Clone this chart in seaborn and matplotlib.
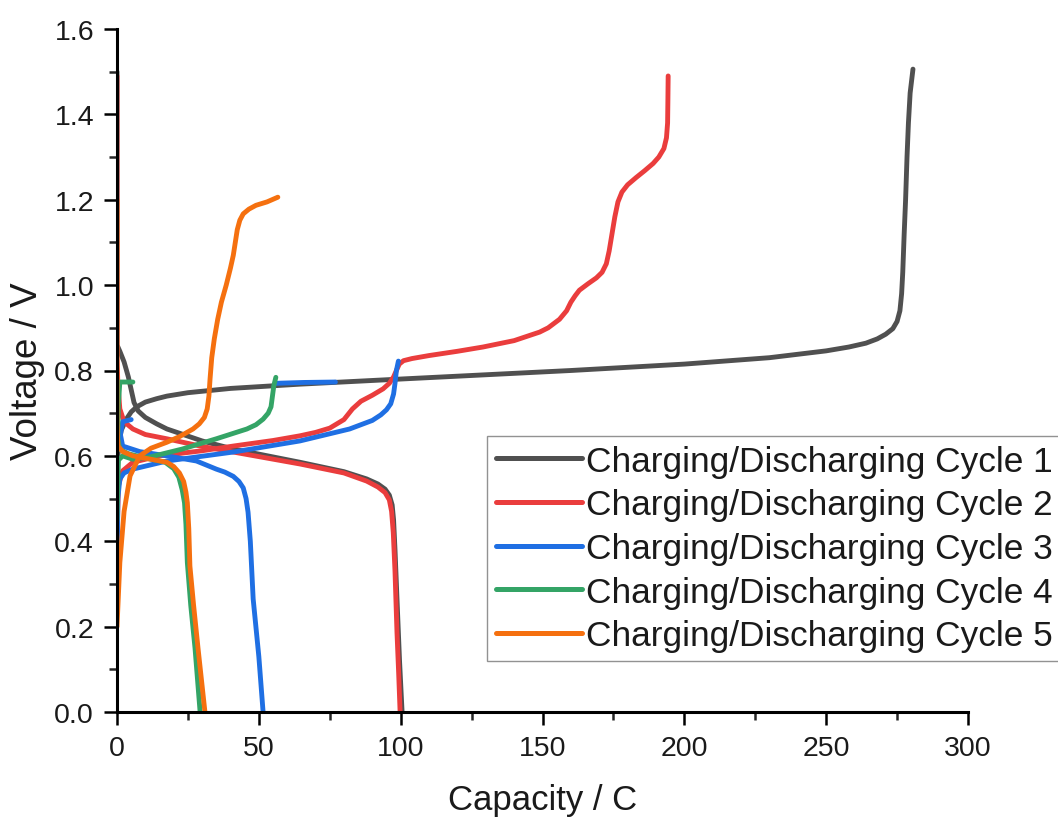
import matplotlib
matplotlib.use("Agg")
import matplotlib.pyplot as plt
from matplotlib.ticker import MultipleLocator, FormatStrFormatter
import seaborn as sns
import pandas as pd

# cycle names / colours
cycles = ["Charging/Discharging Cycle 1", "Charging/Discharging Cycle 2",
          "Charging/Discharging Cycle 3", "Charging/Discharging Cycle 4",
          "Charging/Discharging Cycle 5"]
colors = ["#505050", "#ea3d3d", "#1f6fe3", "#34a466", "#f5700f"]

# Cycle 1
c1_charge_x = [0, 0.5, 1.5, 3.3, 5, 7, 10, 14, 17.6, 25, 40, 64.5, 100, 130, 160, 200, 230, 250,
               258, 264, 268, 271, 273.5, 275, 276, 276.6, 277, 277.5, 278, 278.5, 279, 279.6, 280.6]
c1_charge_v = [0.55, 0.62, 0.66, 0.686, 0.703, 0.715, 0.726, 0.734, 0.74, 0.748, 0.758, 0.768,
               0.78, 0.79, 0.80, 0.815, 0.83, 0.846, 0.855, 0.864, 0.874, 0.885, 0.898, 0.915,
               0.94, 0.98, 1.03, 1.12, 1.2, 1.3, 1.38, 1.45, 1.506]
c1_dis_x = [0, 0, 1, 2.5, 4, 5, 6, 7.5, 10, 14, 17.6, 30, 41, 64.5, 80, 88, 92, 94.5, 96, 97,
            97.5, 98, 98.7, 99.6, 100.5]
c1_dis_v = [1.5, 0.86, 0.845, 0.82, 0.785, 0.755, 0.725, 0.705, 0.69, 0.675, 0.663, 0.635,
            0.616, 0.585, 0.563, 0.546, 0.534, 0.522, 0.508, 0.485, 0.45, 0.38, 0.265, 0.12, 0.0]

# Cycle 2
c2_charge_x = [0, 0.5, 2, 5.6, 15, 30, 41, 55, 64.5, 70, 75, 80, 83, 86, 90, 93.8, 96, 97.5,
               98.5, 99.5, 101, 104, 110, 120, 129, 140, 149, 152, 156, 158.5, 160, 161.5, 163,
               166, 169, 171, 172.5, 173.5, 174.5, 175.5, 176.6, 178, 180, 183, 186, 189, 191,
               192.8, 193.7, 194.1, 194.2, 194.3]
c2_charge_v = [0.4, 0.53, 0.565, 0.585, 0.6, 0.612, 0.623, 0.636, 0.647, 0.655, 0.665, 0.685,
               0.71, 0.728, 0.742, 0.757, 0.77, 0.785, 0.80, 0.815, 0.823, 0.828, 0.835, 0.845,
               0.855, 0.87, 0.89, 0.9, 0.92, 0.94, 0.96, 0.975, 0.988, 1.003, 1.017, 1.03,
               1.05, 1.08, 1.12, 1.16, 1.195, 1.218, 1.235, 1.252, 1.268, 1.285, 1.3, 1.32,
               1.345, 1.38, 1.43, 1.49]
c2_dis_x = [0, 0, 0.3, 1, 2.5, 5.6, 10, 17.6, 30, 41, 64.5, 80, 88, 92, 94.5, 96, 96.8, 97.4,
            98, 98.7, 99.3, 99.8]
c2_dis_v = [1.49, 0.83, 0.77, 0.71, 0.68, 0.663, 0.65, 0.64, 0.622, 0.609, 0.581, 0.56, 0.541,
            0.527, 0.514, 0.497, 0.47, 0.42, 0.33, 0.187, 0.09, 0.0]

# Cycle 3
c3_charge_x = [0, 0.3, 1, 2.5, 5.6, 17.6, 41, 64.5, 82, 90, 93, 95, 96.5, 97.5, 98, 98.5, 99.2]
c3_charge_v = [0.3, 0.5, 0.546, 0.56, 0.569, 0.588, 0.609, 0.635, 0.663, 0.683, 0.696, 0.708,
               0.722, 0.745, 0.77, 0.80, 0.822]
c3_extra_x = [56, 66, 77]
c3_extra_v = [0.77, 0.772, 0.773]
c3_dis_x = [5, 2, 1.2, 2, 8, 17.6, 28, 35, 38, 41, 43, 44.5, 45.5, 46.2, 47, 48, 50, 51.5]
c3_dis_v = [0.685, 0.68, 0.65, 0.623, 0.61, 0.6, 0.588, 0.569, 0.562, 0.552, 0.54, 0.525, 0.5,
            0.468, 0.40, 0.265, 0.13, 0.0]

# Cycle 4
c4_charge_x = [0, 0.5, 2, 5.6, 12, 23, 35, 45.8, 49, 51.5, 53.3, 54.3, 54.8, 55.3, 56]
c4_charge_v = [0.45, 0.59, 0.6, 0.592, 0.598, 0.616, 0.64, 0.663, 0.673, 0.686, 0.7, 0.715,
               0.74, 0.765, 0.784]
c4_dis_x = [5.6, 1, 0.5, 0.3, 1, 4, 10, 17, 20, 21.8, 23, 23.8, 24.3, 24.8, 26, 27.5, 29.3]
c4_dis_v = [0.773, 0.773, 0.72, 0.64, 0.615, 0.605, 0.595, 0.585, 0.57, 0.55, 0.52, 0.49, 0.44,
            0.35, 0.25, 0.15, 0.0]

# Cycle 5
c5_charge_x = [0, 1, 2.5, 4.6, 8, 12, 17.6, 22, 26.8, 29, 30.8, 31.8, 32.4, 32.8, 33.4, 34.3,
               35.5, 36.8, 38.5, 40, 41, 41.7, 42.4, 43.3, 44.5, 46.5, 49, 52.9, 56.7]
c5_charge_v = [0.2, 0.35, 0.47, 0.553, 0.6, 0.618, 0.632, 0.645, 0.663, 0.675, 0.69, 0.71, 0.74,
               0.78, 0.83, 0.874, 0.92, 0.96, 1.0, 1.04, 1.07, 1.1, 1.13, 1.152, 1.167, 1.178,
               1.187, 1.195, 1.206]
c5_dis_x = [0, 0, 0.2, 0.4, 2, 5.6, 12, 17.6, 20, 22, 23.5, 24.3, 24.8, 25.3, 25.7, 27, 28.6, 31]
c5_dis_v = [1.2, 0.68, 0.64, 0.623, 0.61, 0.6, 0.592, 0.585, 0.575, 0.56, 0.54, 0.515, 0.49,
            0.43, 0.342, 0.25, 0.147, 0.0]

segments = [
    (cycles[0], "c1", c1_charge_x, c1_charge_v), (cycles[0], "d1", c1_dis_x, c1_dis_v),
    (cycles[1], "c2", c2_charge_x, c2_charge_v), (cycles[1], "d2", c2_dis_x, c2_dis_v),
    (cycles[2], "c3", c3_charge_x, c3_charge_v), (cycles[2], "e3", c3_extra_x, c3_extra_v),
    (cycles[2], "d3", c3_dis_x, c3_dis_v),
    (cycles[3], "c4", c4_charge_x, c4_charge_v), (cycles[3], "d4", c4_dis_x, c4_dis_v),
    (cycles[4], "c5", c5_charge_x, c5_charge_v), (cycles[4], "d5", c5_dis_x, c5_dis_v),
]
rows = []
for cyc, seg, xs, vs in segments:
    for x, v in zip(xs, vs):
        rows.append({"cycle": cyc, "segment": seg, "capacity": x, "voltage": v})
df = pd.DataFrame(rows)

sns.set_theme(style="ticks")
plt.rcParams['font.family'] = ['Liberation Sans', 'DejaVu Sans']

fig = plt.figure(figsize=(10.58, 8.2), dpi=100)
ax = fig.add_axes([117 / 1058, 1 - 713 / 820, (968 - 117) / 1058, (713 - 30) / 820])

sns.lineplot(data=df, x="capacity", y="voltage", hue="cycle", units="segment",
             estimator=None, sort=False, palette=colors, hue_order=cycles,
             linewidth=3.5, solid_joinstyle='round', solid_capstyle='round', ax=ax)

ax.set_xlim(0, 300)
ax.set_ylim(0, 1.6)
ax.xaxis.set_major_locator(MultipleLocator(50))
ax.xaxis.set_minor_locator(MultipleLocator(25))
ax.yaxis.set_major_locator(MultipleLocator(0.2))
ax.yaxis.set_minor_locator(MultipleLocator(0.1))
ax.yaxis.set_major_formatter(FormatStrFormatter('%.1f'))
ax.tick_params(which='major', direction='out', length=9.5, width=1.8, pad=7,
               labelsize=20.5, colors='black', labelcolor='#1a1a1a')
ax.tick_params(which='minor', direction='out', length=5.5, width=1.8)
sns.despine(ax=ax)
for s in ['left', 'bottom']:
    ax.spines[s].set_linewidth(2.2)
    ax.spines[s].set_color('black')

ax.set_xlabel("Capacity / C", fontsize=25, labelpad=16, color='#1a1a1a')
ax.set_ylabel("Voltage / V", fontsize=26.5, labelpad=7, color='#1a1a1a')

handles, labels = ax.get_legend_handles_labels()
leg = ax.legend(handles, labels, loc='upper left',
                bbox_to_anchor=(487 / 1058, 1 - 437 / 820), bbox_transform=fig.transFigure,
                fontsize=25.4, frameon=True, fancybox=False, edgecolor='#777777',
                handlelength=2.45, handletextpad=0.12, labelspacing=0.3, borderpad=0.25,
                borderaxespad=0)
leg.get_frame().set_linewidth(1.0)
for text in leg.get_texts():
    text.set_color('#1a1a1a')
for line in leg.get_lines():
    line.set_linewidth(3.6)

fig.savefig("out.png", dpi=100)
